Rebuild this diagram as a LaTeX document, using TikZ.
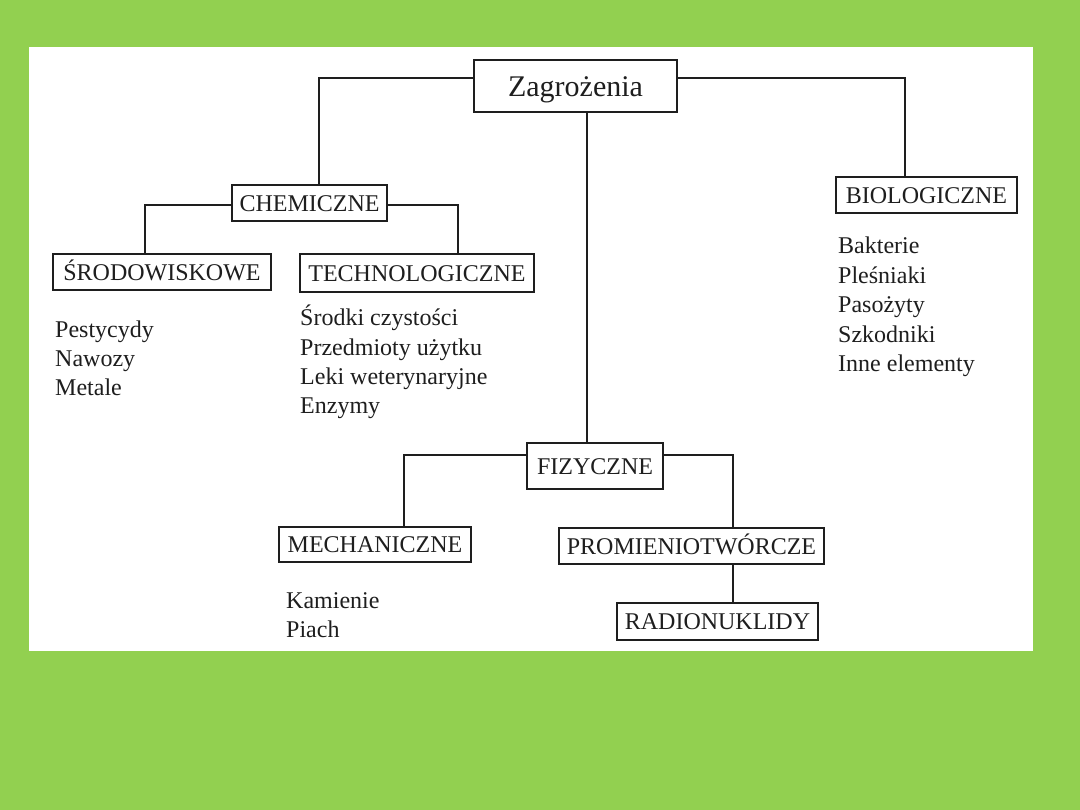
\documentclass[tikz,border=0pt]{standalone}
\usepackage{fontspec}
\setmainfont{Liberation Serif}
\definecolor{bggreen}{HTML}{92D050}
\definecolor{ink}{HTML}{1E1E1E}
\begin{document}
\begin{tikzpicture}[x=1pt,y=-1pt,
  box/.style={draw=ink,line width=1.5pt,inner sep=0pt,text=ink,
    font=\fontsize{24}{29}\selectfont,text height=16.5pt,text depth=0pt},
  conn/.style={draw=ink,line width=1.5pt},
  item/.style={anchor=base west,inner sep=0pt,text=ink,font=\fontsize{24}{29}\selectfont}]
\useasboundingbox (0,0) rectangle (1080,810);
\fill[bggreen] (0,0) rectangle (1080,810);
\fill[white] (29,47) rectangle (1033,651);

% boxes
\node[box,minimum width=203pt,minimum height=52pt,font=\fontsize{30}{34}\selectfont,text height=21pt] (zag) at (575.5,86) {Zagrożenia};
\node[box,minimum width=155pt,minimum height=36pt] (chem) at (309.5,203) {CHEMICZNE};
\node[box,minimum width=218pt,minimum height=36pt] (srod) at (162,272) {ŚRODOWISKOWE};
\node[box,minimum width=234pt,minimum height=38pt] (tech) at (417,273) {TECHNOLOGICZNE};
\node[box,minimum width=181pt,minimum height=36pt] (bio) at (926.5,195) {BIOLOGICZNE};
\node[box,minimum width=136pt,minimum height=46pt] (fiz) at (595,466) {FIZYCZNE};
\node[box,minimum width=192pt,minimum height=35pt] (mech) at (375,544.5) {MECHANICZNE};
\node[box,minimum width=265pt,minimum height=36pt] (prom) at (691.5,546) {PROMIENIOTWÓRCZE};
\node[box,minimum width=201pt,minimum height=37pt] (radio) at (717.5,621.5) {RADIONUKLIDY};

% connectors
\draw[conn] ([yshift=8pt]zag.west) -| ([xshift=9.5pt]chem.north);
\draw[conn] ([yshift=8pt]zag.east) -| ([xshift=-21.5pt]bio.north);
\draw[conn] ([xshift=11.5pt]zag.south) -- ([xshift=-8pt]fiz.north);
\draw[conn] ([yshift=-2pt]chem.west) -| ([xshift=-17pt]srod.north);
\draw[conn] ([yshift=-2pt]chem.east) -| ([xshift=41pt]tech.north);
\draw[conn] ([yshift=11pt]fiz.west) -| ([xshift=29pt]mech.north);
\draw[conn] ([yshift=11pt]fiz.east) -| ([xshift=41.5pt]prom.north);
\draw[conn] ([xshift=41.5pt]prom.south) -- ([xshift=15.5pt]radio.north);

% lists
\node[item] (s1) at (55,338) {Pestycydy};
\node[item] (s2) at (55,367) {Nawozy};
\node[item] (s3) at (55,396) {Metale};

\node[item] (t1) at (300,326) {Środki czystości};
\node[item] (t2) at (300,355.5) {Przedmioty użytku};
\node[item] (t3) at (300,385) {Leki weterynaryjne};
\node[item] (t4) at (300,414) {Enzymy};

\node[item] (b1) at (838,254) {Bakterie};
\node[item] (b2) at (838,284) {Pleśniaki};
\node[item] (b3) at (838,313) {Pasożyty};
\node[item] (b4) at (838,343) {Szkodniki};
\node[item] (b5) at (838,372) {Inne elementy};

\node[item] (m1) at (286,608) {Kamienie};
\node[item] (m2) at (286,637) {Piach};
\end{tikzpicture}
\end{document}
